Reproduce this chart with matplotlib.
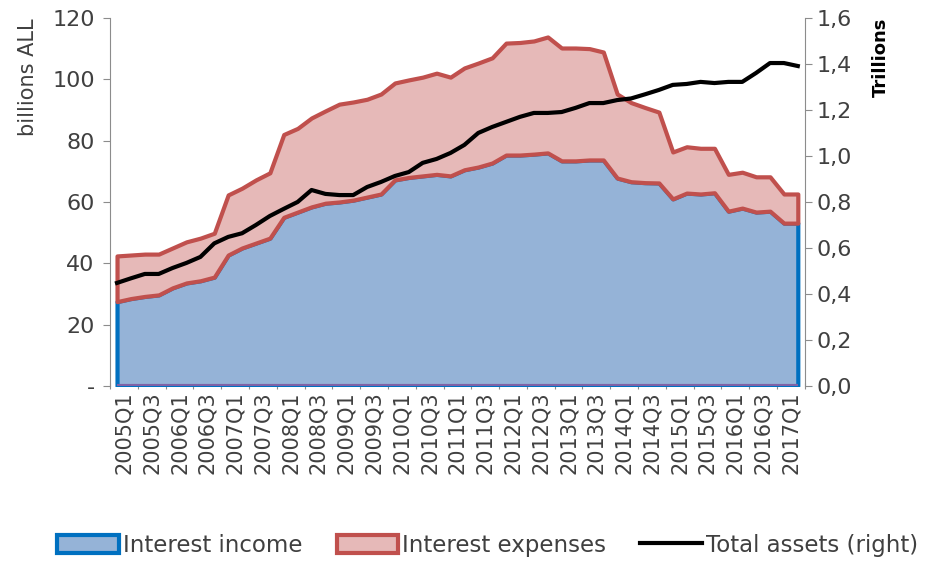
import numpy as np
import matplotlib.pyplot as plt
import matplotlib as mpl
from matplotlib.patches import Patch
from matplotlib.lines import Line2D
from matplotlib.ticker import FuncFormatter, FixedLocator

mpl.rcParams["font.family"] = "DejaVu Sans"

# quarters 2005Q1 .. 2017Q2
quarters = [f"{y}Q{q}" for y in range(2005, 2018) for q in range(1, 5)][:50]

# billions ALL
interest_income = [27.5, 28.5, 29.2, 29.7, 32.0, 33.6, 34.3, 35.5, 42.7, 45.0,
                   46.6, 48.2, 55.0, 56.7, 58.4, 59.6, 60.0, 60.6, 61.6, 62.6,
                   67.2, 68.0, 68.5, 69.0, 68.5, 70.5, 71.4, 72.7, 75.3, 75.3,
                   75.6, 76.0, 73.4, 73.4, 73.7, 73.7, 67.8, 66.6, 66.3, 66.2,
                   61.0, 62.9, 62.6, 63.0, 57.0, 58.0, 56.7, 57.0, 53.1, 53.1]
# cumulative top (income + expenses)
total_income_expenses = [42.4, 42.7, 43.0, 43.0, 45.0, 47.0, 48.2, 49.8, 62.3, 64.5,
                         67.2, 69.5, 82.0, 84.0, 87.4, 89.7, 91.9, 92.6, 93.5, 95.2,
                         98.8, 99.8, 100.7, 102.0, 100.7, 103.7, 105.3, 107.0, 111.8, 112.0,
                         112.5, 113.8, 110.2, 110.2, 110.0, 108.9, 95.2, 92.4, 90.8, 89.3,
                         76.3, 78.0, 77.5, 77.5, 69.0, 69.7, 68.2, 68.2, 62.6, 62.6]
interest_expenses = [t - i for t, i in zip(total_income_expenses, interest_income)]

# trillions ALL
total_assets = [0.448, 0.468, 0.487, 0.487, 0.513, 0.535, 0.561, 0.620, 0.648, 0.664,
                0.700, 0.739, 0.770, 0.800, 0.852, 0.835, 0.830, 0.830, 0.865, 0.887,
                0.913, 0.930, 0.970, 0.987, 1.013, 1.048, 1.100, 1.126, 1.148, 1.170,
                1.187, 1.187, 1.191, 1.209, 1.230, 1.230, 1.243, 1.250, 1.268, 1.287,
                1.309, 1.313, 1.322, 1.317, 1.322, 1.322, 1.361, 1.404, 1.404, 1.391]

blue_edge, blue_fill = "#0070c0", "#95b3d7"
red_edge, red_fill = "#c0504d", "#e6b9b8"
grey = "#8c8c8c"
txt = "#404040"

x = np.arange(len(quarters))
inc = np.array(interest_income)
top = inc + np.array(interest_expenses)

fig = plt.figure(figsize=(9.25, 5.61), dpi=100)
ax = fig.add_axes([0.119, 0.312, 0.751, 0.656])
ax2 = ax.twinx()

ax.fill_between(x, 0, inc, facecolor=blue_fill, edgecolor=blue_edge, linewidth=3, zorder=2)
ax.fill_between(x, inc, top, facecolor=red_fill, edgecolor=red_edge, linewidth=3, zorder=3)
ax.plot([x[0], x[-1]], [0, 0], color="#7f62a6", lw=3, zorder=4, solid_capstyle="butt")
ax2.plot(x, total_assets, color="black", lw=3, zorder=5)

ax.set_xlim(-0.5, len(quarters) - 0.5)
ax.set_ylim(0, 120)
ax2.set_ylim(0, 1.6)
ax.set_yticks(range(0, 121, 20))
ax.yaxis.set_major_formatter(FuncFormatter(lambda v, p: "-" if v == 0 else f"{v:.0f}"))
ax2.set_yticks(np.arange(0, 1.61, 0.2))
ax2.yaxis.set_major_formatter(FuncFormatter(lambda v, p: f"{v:.1f}".replace(".", ",")))

# ticks between pairs of quarters, labels every second quarter
ax.xaxis.set_major_locator(FixedLocator(np.arange(-0.5, len(quarters), 2)))
ax.xaxis.set_major_formatter(FuncFormatter(lambda v, p: ""))
ax.set_xticks(np.arange(0.5, len(quarters), 2), minor=True)
ax.set_xticklabels(quarters[::2], minor=True, rotation=90)
ax.tick_params(axis="x", which="minor", length=0, labelsize=15, pad=4, colors=txt)
ax.tick_params(axis="x", which="major", length=5, direction="inout", color=grey)

for a in (ax, ax2):
    for s in a.spines.values():
        s.set_visible(False)
ax.spines["left"].set_visible(True)
ax.spines["left"].set_color(grey)
ax2.spines["right"].set_visible(True)
ax2.spines["right"].set_color(grey)
ax.tick_params(axis="y", length=5, color=grey, labelsize=16, labelcolor=txt, pad=6)
ax2.tick_params(axis="y", length=5, color=grey, labelsize=16, labelcolor=txt)

ax.set_ylabel("billions ALL", loc="top", fontsize=15, color=txt, labelpad=10)
ax2.set_ylabel("Trillions", loc="top", fontsize=13, fontweight="bold", labelpad=14)

handles = [
    Patch(facecolor=blue_fill, edgecolor=blue_edge, linewidth=3),
    Patch(facecolor=red_fill, edgecolor=red_edge, linewidth=3),
    Line2D([0], [0], color="black", lw=3),
]
fig.legend(handles, ["Interest income", "Interest expenses", "Total assets (right)"],
           loc="center", bbox_to_anchor=(0.527, 0.028), ncol=3, frameon=False,
           fontsize=16.5, handlelength=2.7, handleheight=0.8, handletextpad=0.15,
           columnspacing=1.5, labelcolor=txt)

fig.savefig("out.png", dpi=100)
